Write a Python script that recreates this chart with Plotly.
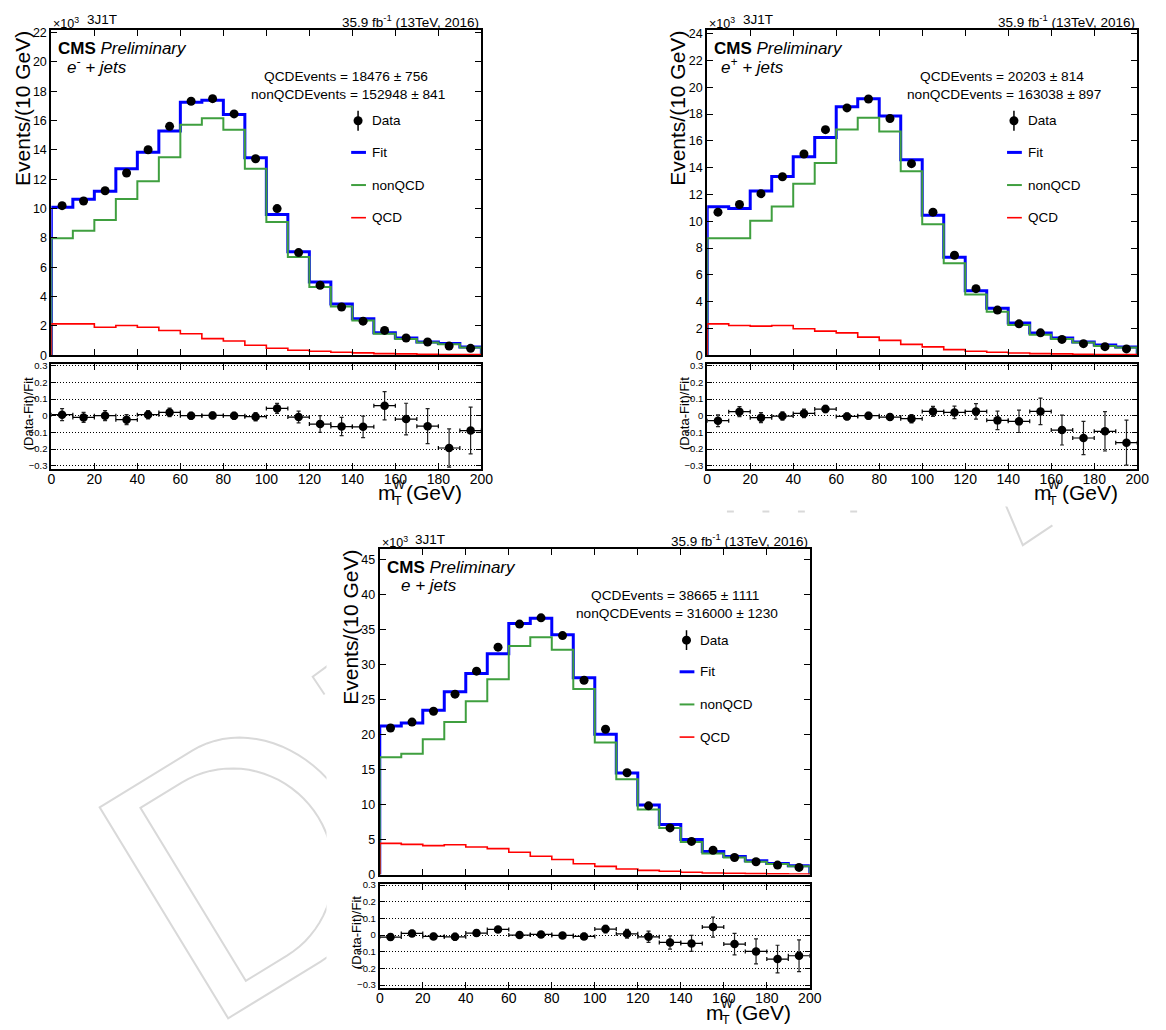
import math
import plotly.graph_objects as go

W, H = 1166, 1030
FONT = "Liberation Sans, Arial, Helvetica, sans-serif"

# m_T^W binning: 20 bins of 10 GeV between 0 and 200 GeV
edges = [10 * i for i in range(21)]
centers = [5 + 10 * i for i in range(20)]
halfw = [5] * 20

# ---- e- + jets (events in units of 10^3 per 10 GeV) ----
em_data = [10.20, 10.52, 11.22, 12.43, 14.01, 15.61, 17.32, 17.50, 16.46, 13.40,
           10.00, 7.00, 4.77, 3.29, 2.32, 1.69, 1.17, 0.90, 0.63, 0.47]
em_fit = [10.09, 10.63, 11.19, 12.72, 13.85, 15.29, 17.25, 17.39, 16.42, 13.47,
          9.59, 7.05, 5.00, 3.49, 2.48, 1.53, 1.17, 0.90, 0.79, 0.56]
em_nonqcd = [7.97, 8.49, 9.23, 10.65, 11.87, 13.51, 15.72, 16.17, 15.38, 12.72,
             9.08, 6.69, 4.66, 3.33, 2.36, 1.46, 1.10, 0.86, 0.74, 0.52]
em_qcd = [2.14, 2.14, 1.91, 2.03, 1.91, 1.69, 1.46, 1.13, 0.97, 0.68,
          0.47, 0.34, 0.27, 0.20, 0.16, 0.11, 0.09, 0.07, 0.05, 0.04]
em_ratio = [0.006, -0.010, 0.000, -0.024, 0.006, 0.020, 0.000, 0.002, 0.000, -0.006,
            0.044, -0.008, -0.050, -0.065, -0.067, 0.060, -0.020, -0.063, -0.194, -0.089]
em_ratio_err = [0.036, 0.030, 0.030, 0.030, 0.025, 0.025, 0.020, 0.020, 0.020, 0.025,
                0.030, 0.035, 0.050, 0.055, 0.065, 0.085, 0.095, 0.105, 0.115, 0.140]

# ---- e+ + jets ----
ep_data = [10.68, 11.25, 12.06, 13.32, 15.02, 16.84, 18.46, 19.13, 17.67, 14.30,
           10.68, 7.46, 4.97, 3.37, 2.34, 1.67, 1.18, 0.86, 0.64, 0.47]
ep_fit = [11.08, 10.95, 12.26, 13.34, 14.82, 16.25, 18.54, 19.15, 17.85, 14.60,
          10.44, 7.31, 4.82, 3.50, 2.41, 1.65, 1.28, 0.98, 0.76, 0.62]
ep_nonqcd = [8.74, 8.74, 10.04, 11.10, 12.80, 14.35, 16.86, 17.72, 16.71, 13.74,
             9.77, 6.87, 4.53, 3.25, 2.26, 1.53, 1.21, 0.94, 0.69, 0.57]
ep_qcd = [2.34, 2.22, 2.17, 2.22, 1.97, 1.80, 1.67, 1.35, 1.11, 0.81,
          0.62, 0.42, 0.30, 0.22, 0.17, 0.12, 0.10, 0.07, 0.05, 0.05]
ep_ratio = [-0.030, 0.024, -0.012, -0.002, 0.014, 0.040, -0.004, 0.000, -0.008, -0.018,
            0.026, 0.020, 0.026, -0.028, -0.034, 0.026, -0.086, -0.134, -0.094, -0.162]
ep_ratio_err = [0.035, 0.030, 0.030, 0.025, 0.025, 0.022, 0.020, 0.020, 0.020, 0.025,
                0.030, 0.037, 0.047, 0.055, 0.067, 0.080, 0.090, 0.100, 0.118, 0.135]

# ---- e + jets (combined) ----
e_data = [20.97, 21.81, 23.37, 25.81, 29.10, 32.53, 35.83, 36.72, 34.18, 27.79,
          20.78, 14.57, 9.83, 6.68, 4.75, 3.48, 2.44, 1.83, 1.36, 1.03]
e_fit = [21.25, 21.67, 23.50, 26.14, 28.77, 31.60, 35.92, 36.67, 34.32, 28.16,
         20.08, 14.53, 9.97, 7.15, 5.03, 3.29, 2.59, 1.97, 1.60, 1.27]
e_nonqcd = [16.78, 17.30, 19.37, 21.81, 24.78, 27.93, 32.68, 33.94, 32.16, 26.56,
            18.90, 13.63, 9.31, 6.68, 4.65, 3.01, 2.44, 1.83, 1.50, 1.18]
e_qcd = [4.47, 4.33, 4.14, 4.28, 3.95, 3.71, 3.20, 2.63, 2.16, 1.55,
         1.18, 0.80, 0.61, 0.47, 0.33, 0.24, 0.19, 0.14, 0.10, 0.09]
e_ratio = [-0.012, 0.010, -0.008, -0.010, 0.012, 0.034, 0.000, 0.004, -0.002, -0.008,
           0.036, 0.008, -0.010, -0.044, -0.050, 0.048, -0.054, -0.098, -0.144, -0.124]
e_ratio_err = [0.020, 0.018, 0.018, 0.020, 0.020, 0.016, 0.014, 0.014, 0.014, 0.018,
               0.022, 0.026, 0.034, 0.040, 0.048, 0.060, 0.065, 0.075, 0.083, 0.095]

ratio_ticks = [0.3, 0.2, 0.1, 0, -0.1, -0.2, -0.3]
ratio_ticktext = ["0.3", "0.2", "0.1", "0", "\u22120.1", "\u22120.2", "\u22120.3"]

panels = [
    dict(ox=0, oy=0, data=em_data, fit=em_fit, nonqcd=em_nonqcd, qcd=em_qcd,
         ratio=em_ratio, rerr=em_ratio_err, ymax=22.2, dtick=2,
         channel="<i>e<sup>-</sup> + jets</i>", chx=62,
         qcd_txt="QCDEvents = 18476 \u00b1 756",
         nonqcd_txt="nonQCDEvents = 152948 \u00b1 841"),
    dict(ox=665, oy=0, data=ep_data, fit=ep_fit, nonqcd=ep_nonqcd, qcd=ep_qcd,
         ratio=ep_ratio, rerr=ep_ratio_err, ymax=24.3, dtick=2,
         channel="<i>e<sup>+</sup> + jets</i>", chx=60,
         qcd_txt="QCDEvents = 20203 \u00b1 814",
         nonqcd_txt="nonQCDEvents = 163038 \u00b1 897"),
    dict(ox=333, oy=525, data=e_data, fit=e_fit, nonqcd=e_nonqcd, qcd=e_qcd,
         ratio=e_ratio, rerr=e_ratio_err, ymax=46.55, dtick=5,
         channel="<i>e + jets</i>", chx=67,
         qcd_txt="QCDEvents = 38665 \u00b1 1111",
         nonqcd_txt="nonQCDEvents = 316000 \u00b1 1230"),
]

BLUE = "#0000ff"
GREEN = "#3f9f3f"
RED = "#ff0000"


def fx(px):
    return px / W


def fy(py):
    return 1 - py / H


def steps(vals):
    xs = [edges[0]] + edges[:-1] + [edges[-1], edges[-1]]
    ys = [0] + list(vals) + [vals[-1], 0]
    return xs, ys


def polyline(pts, close=False):
    s = "M " + " L ".join(f"{fx(x):.5f},{fy(y):.5f}" for x, y in pts)
    return s + (" Z" if close else "")


fig = go.Figure()
annotations = []
shapes = []


def text(x, y, s, size, xanchor="left", yanchor="middle", angle=0):
    annotations.append(dict(
        x=fx(x), y=fy(y), xref="paper", yref="paper", text=s, showarrow=False,
        xanchor=xanchor, yanchor=yanchor, textangle=angle,
        font=dict(family=FONT, size=size, color="black"),
    ))


# ---- faint watermark outline on the page, mostly hidden behind the pads ----
def to_px(u, v):
    a = (97.0, 812.0)
    eu = (0.521, 0.853)
    ev = (0.853, -0.521)
    return a[0] + u * eu[0] + v * ev[0], a[1] + u * eu[1] + v * ev[1]


def d_outline(u0, u1, v_stem, v_top, bulge):
    pts = [to_px(u1, v_stem), to_px(u0, v_stem), to_px(u0, v_top)]
    uc = 0.5 * (u0 + u1)
    ua = 0.5 * (u1 - u0)
    for k in range(1, 40):
        t = math.pi * k / 40
        pts.append(to_px(uc - ua * math.cos(t), v_top + bulge * math.sin(t)))
    pts.append(to_px(u1, v_top))
    return polyline(pts, close=True)


wm_line = dict(color="#d9d9d9", width=2)
wm_paths = [
    d_outline(0, 250, 0, 110, 105),
    d_outline(22, 227, 35, 84, 100),
    polyline([(328, 669), (313, 680), (325, 698)]),
    polyline([(1015, 505), (1033, 547), (1063, 527)]),
]
for x0 in (733, 769, 805, 858):
    wm_paths.append(polyline([(x0, 513), (x0 + 7, 513)]))
for pth in wm_paths:
    shapes.append(dict(type="path", xref="paper", yref="paper", layer="below",
                       path=pth, line=wm_line))

# white pads that hide the watermark behind each plot
for (x0, y0, x1, y1) in [(0, 0, 505, 508), (658, 0, 1166, 508), (327, 528, 832, 1030)]:
    shapes.append(dict(type="rect", xref="paper", yref="paper", layer="below",
                       x0=fx(x0), x1=fx(x1), y0=fy(y1), y1=fy(y0),
                       fillcolor="white", line=dict(width=0)))

layout_axes = {}

for i, p in enumerate(panels):
    ox, oy = p["ox"], p["oy"]
    n_main = 2 * i + 1
    n_ratio = 2 * i + 2
    xm = "x" if n_main == 1 else f"x{n_main}"
    ym = "y" if n_main == 1 else f"y{n_main}"
    xr = f"x{n_ratio}"
    yr = f"y{n_ratio}"

    # fit and its two components as step histograms
    for vals, color, width in [(p["fit"], BLUE, 3), (p["nonqcd"], GREEN, 2), (p["qcd"], RED, 1.6)]:
        xs, ys = steps(vals)
        fig.add_trace(go.Scatter(x=xs, y=ys, mode="lines", line=dict(color=color, width=width, shape="hv"),
                                 xaxis=xm, yaxis=ym, showlegend=False, hoverinfo="skip"))
    # observed data
    fig.add_trace(go.Scatter(x=centers, y=p["data"], mode="markers",
                             marker=dict(color="black", size=9), xaxis=xm, yaxis=ym,
                             showlegend=False))
    # (Data-Fit)/Fit
    fig.add_trace(go.Scatter(
        x=centers, y=p["ratio"], mode="markers", marker=dict(color="black", size=8.5),
        error_x=dict(type="data", array=halfw, color="black", thickness=1.2, width=2),
        error_y=dict(type="data", array=p["rerr"], color="#222222", thickness=1.2, width=2),
        xaxis=xr, yaxis=yr, showlegend=False))

    xdom = [fx(ox + 48), fx(ox + 484)]
    common_x = dict(domain=xdom, range=[0, 200], showline=True, linewidth=2, linecolor="black",
                    mirror="ticks", ticks="inside", ticklen=6, tickwidth=1, tickcolor="black",
                    dtick=20, tick0=0, showgrid=False, zeroline=False,
                    tickfont=dict(family=FONT, size=14, color="black"))
    key_xm = "xaxis" if n_main == 1 else f"xaxis{n_main}"
    key_ym = "yaxis" if n_main == 1 else f"yaxis{n_main}"
    layout_axes[key_xm] = dict(common_x, anchor=ym, showticklabels=False)
    layout_axes[key_ym] = dict(
        domain=[fy(oy + 355), fy(oy + 26)], range=[0, p["ymax"]], anchor=xm,
        showline=True, linewidth=2, linecolor="black", mirror="ticks", ticks="inside",
        ticklen=6, tickwidth=1, tickcolor="black", dtick=p["dtick"], tick0=0,
        showgrid=False, zeroline=False, tickfont=dict(family=FONT, size=12.5, color="black"))
    layout_axes[f"xaxis{n_ratio}"] = dict(common_x, anchor=yr, showticklabels=True,
                                          ticklabelstandoff=-4)
    layout_axes[f"yaxis{n_ratio}"] = dict(
        domain=[fy(oy + 470), fy(oy + 364)], range=[-0.32, 0.31], anchor=xr,
        showline=True, linewidth=2, linecolor="black", mirror="ticks", ticks="inside",
        ticklen=5, tickwidth=1, tickcolor="black", tickvals=ratio_ticks, ticktext=ratio_ticktext,
        showgrid=True, gridcolor="black", gridwidth=1, griddash="1px,2px", zeroline=False,
        tickfont=dict(family=FONT, size=9.5, color="black"))

    # header line
    text(ox + 48, oy + 19, "\u00d710<sup>3</sup>", 12.5)
    text(ox + 82, oy + 16, "3J1T", 13.5)
    text(ox + 484, oy + 17, "35.9 fb<sup>-1</sup> (13TeV, 2016)", 13.5, xanchor="right")
    # labels inside the frame
    text(ox + 53, oy + 45, "<b>CMS</b> <i>Preliminary</i>", 17)
    text(ox + p["chx"], oy + 63, p["channel"], 17)
    text(ox + 347, oy + 73, p["qcd_txt"], 13.7, xanchor="center")
    text(ox + 349, oy + 91, p["nonqcd_txt"], 13.7, xanchor="center")

    # legend
    lx = ox + 371
    fig.add_trace(go.Scatter(x=[fx(ox + 359)], y=[fy(oy + 118)], mode="markers",
                             marker=dict(color="black", size=9), xaxis="x7", yaxis="y7",
                             showlegend=False, hoverinfo="skip"))
    shapes.append(dict(type="line", xref="paper", yref="paper", x0=fx(ox + 359), x1=fx(ox + 359),
                       y0=fy(oy + 108), y1=fy(oy + 128), line=dict(color="black", width=1.5)))
    text(lx, oy + 118, "Data", 13.5)
    for yy, color, width, label in [(150, BLUE, 3, "Fit"), (183, GREEN, 2, "nonQCD"), (216, RED, 1.6, "QCD")]:
        shapes.append(dict(type="line", xref="paper", yref="paper", x0=fx(ox + 352), x1=fx(ox + 367),
                           y0=fy(oy + yy), y1=fy(oy + yy), line=dict(color=color, width=width)))
        text(lx, oy + yy, label, 13.5)

    # axis titles
    text(ox + 18, oy + 25, "Events/(10 GeV)", 21, xanchor="center", yanchor="top", angle=-90)
    text(ox + 25, oy + 414, "(Data-Fit)/Fit", 13, xanchor="center", yanchor="middle", angle=-90)
    text(ox + 388, oy + 494, "m", 21, xanchor="center")
    text(ox + 399, oy + 502, "T", 12.5, xanchor="center")
    text(ox + 400, oy + 486, "W", 12.5, xanchor="center")
    text(ox + 406, oy + 494, "(GeV)", 21)

# overlay axis used only for the legend markers (0..1 coordinates across the page)
layout_axes["xaxis7"] = dict(domain=[0, 1], range=[0, 1], visible=False, anchor="y7")
layout_axes["yaxis7"] = dict(domain=[0, 1], range=[0, 1], visible=False, anchor="x7")

fig.update_layout(
    width=W, height=H, margin=dict(l=0, r=0, t=0, b=0),
    paper_bgcolor="white", plot_bgcolor="rgba(0,0,0,0)",
    showlegend=False, annotations=annotations, shapes=shapes,
    font=dict(family=FONT, color="black"),
    **layout_axes,
)

fig.write_html("out.html")
